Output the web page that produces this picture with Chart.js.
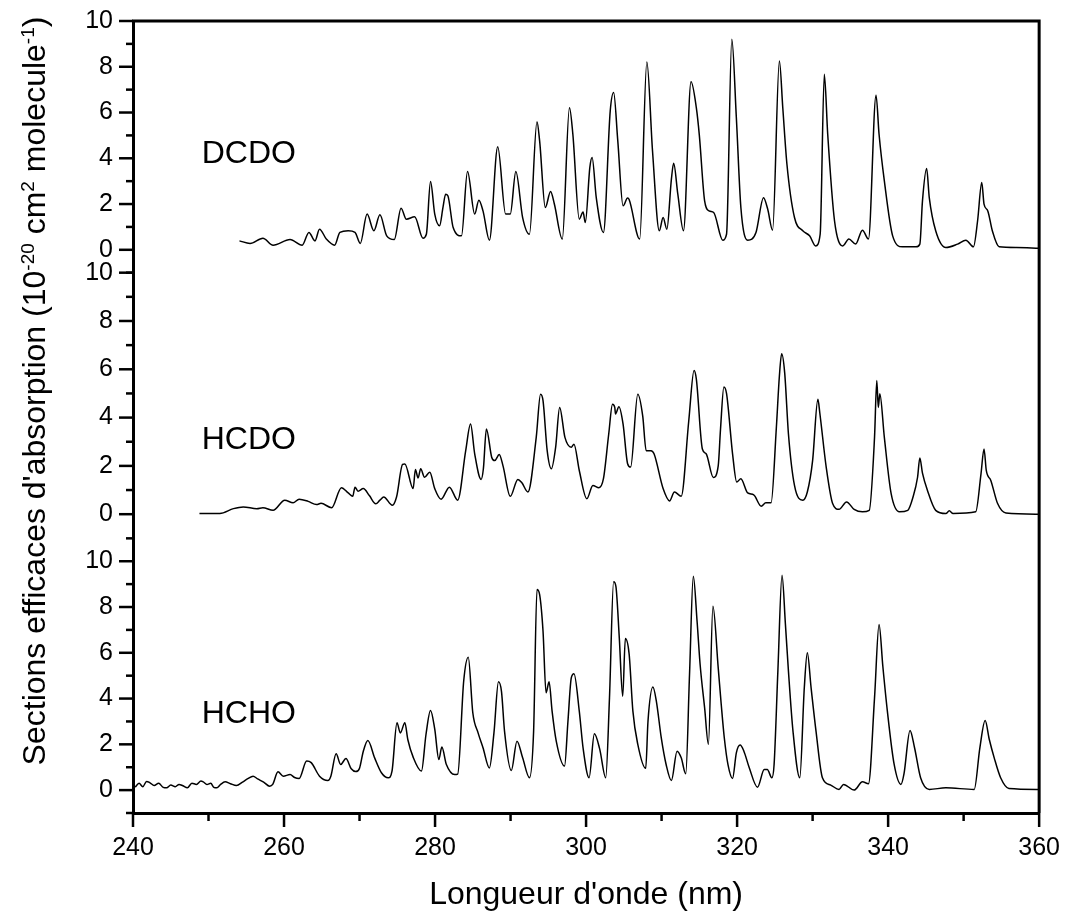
<!DOCTYPE html>
<html>
<head>
<meta charset="utf-8">
<script src="https://cdn.jsdelivr.net/npm/chart.js@4.4.1/dist/chart.umd.min.js"></script>
<style>
  html, body { margin: 0; padding: 0; background: #fff; }
  #wrap { position: relative; width: 1066px; height: 915px; }
</style>
</head>
<body>
<div id="wrap"><canvas id="spectraChart"></canvas></div>
<script>
// cross sections in 1e-20 cm2/molecule
const dcdoNm = [254.1, 255.5, 257.2, 258.55, 260.8, 262.4, 263.3, 264.1, 264.7, 265.6,
  266.7, 267.4, 268.5, 269.4, 270.1, 271.0, 271.9, 272.7, 273.6, 274.6,
  275.5, 276.2, 277.3, 278.4, 278.85, 279.4, 279.96, 280.6, 281.05, 281.4,
  281.7, 282.4, 283.5, 284.3, 285.25, 285.8, 286.35, 287.2, 288.3, 289.35,
  289.96, 290.7, 291.6, 292.5, 293.5, 293.85, 294.6, 295.3, 295.8, 296.85,
  297.8, 298.25, 299.1, 299.6, 299.9, 300.5, 300.8, 301.35, 302.3, 303.2,
  303.65, 304.2, 304.9, 305.5, 305.7, 307.1, 308.05, 308.8, 309.7, 310.2,
  310.7, 311.3, 311.6, 312.15, 312.9, 313.9, 314.6, 315.0, 315.7, 316.3,
  316.9, 318.1, 318.6, 319.3, 319.9, 320.5, 321.4, 322.5, 323.5, 324.05,
  324.7, 325.6, 326.05, 326.6, 327.6, 328.7, 329.6, 330.4, 331.0, 331.55,
  332.0, 332.9, 334.0, 334.8, 335.7, 336.6, 337.4, 338.4, 338.8, 339.5,
  340.6, 341.9, 343.7, 344.2, 344.55, 345.1, 345.45, 346.3, 347.65, 349.2,
  350.3, 351.3, 351.85, 352.4, 352.7, 353.2, 353.8, 354.7, 357.0, 360.0];
const dcdoSigma = [0.39, 0.28, 0.51, 0.2, 0.45, 0.2, 0.76, 0.39, 0.9, 0.47,
  0.2, 0.76, 0.83, 0.76, 0.28, 1.56, 0.83, 1.53, 0.61, 0.45,
  1.82, 1.34, 1.44, 0.51, 0.68, 2.98, 1.56, 1.05, 1.85, 2.43,
  2.36, 0.97, 0.61, 3.42, 1.56, 2.17, 1.7, 0.42, 4.5, 1.56,
  1.56, 3.42, 1.41, 0.68, 5.6, 4.76, 1.85, 2.55, 2.0, 0.47,
  6.21, 5.05, 1.34, 1.65, 1.19, 3.6, 4.03, 2.28, 0.76, 6.07,
  6.87, 4.76, 1.92, 2.26, 2.2, 0.47, 8.21, 4.32, 0.83, 1.41,
  0.9, 3.09, 3.78, 2.43, 0.83, 7.34, 6.21, 5.0, 2.14, 1.7,
  1.63, 0.42, 0.68, 9.2, 5.78, 1.85, 0.42, 0.76, 2.28, 1.78,
  0.86, 8.25, 6.21, 3.74, 1.41, 0.83, 0.61, 0.17, 0.68, 7.67,
  5.05, 1.27, 0.17, 0.47, 0.25, 0.86, 0.47, 6.76, 5.05, 3.01,
  0.61, 0.13, 0.13, 0.25, 2.14, 3.55, 2.28, 0.83, 0.1, 0.25,
  0.42, 0.13, 1.27, 2.94, 2.0, 1.7, 0.83, 0.13, 0.1, 0.07];

const hcdoNm = [248.8, 251.5, 253.3, 254.6, 256.4, 257.2, 258.55, 260.1, 261.2, 262.0,
  263.2, 264.3, 264.9, 266.3, 267.6, 268.5, 269.1, 269.4, 269.8, 270.5,
  271.3, 272.15, 272.7, 273.2, 274.35, 274.9, 275.7, 276.0, 277.1, 277.4,
  277.75, 278.1, 278.6, 279.3, 279.96, 280.8, 281.9, 283.0, 284.06, 284.7,
  285.25, 286.1, 286.4, 286.8, 287.5, 287.9, 288.5, 289.0, 289.96, 290.97,
  291.5, 292.3, 293.4, 293.97, 294.3, 294.85, 295.4, 295.97, 296.5, 297.2,
  298.04, 298.4, 299.1, 300.1, 300.9, 301.7, 302.3, 303.0, 303.5, 303.8,
  303.9, 304.35, 304.9, 305.5, 305.9, 306.85, 307.5, 307.96, 308.6, 309.0,
  310.2, 311.05, 311.7, 312.6, 313.6, 314.3, 314.6, 315.4, 315.9, 316.85,
  317.5, 317.8, 318.25, 318.6, 319.4, 319.95, 320.5, 321.4, 322.2, 323.2,
  323.8, 324.5, 325.2, 325.6, 325.9, 326.3, 326.8, 327.6, 328.7, 329.3,
  330.0, 330.7, 330.95, 331.8, 332.65, 333.5, 334.5, 335.5, 336.6, 337.5,
  338.2, 338.5, 338.7, 338.9, 339.5, 340.4, 341.5, 342.6, 343.3, 343.9,
  344.2, 344.55, 345.2, 346.3, 347.65, 348.1, 348.6, 351.6, 352.3, 352.7,
  353.0, 353.6, 354.5, 355.6, 360.0];
const hcdoSigma = [0.03, 0.03, 0.23, 0.3, 0.23, 0.27, 0.16, 0.58, 0.47, 0.62,
  0.53, 0.4, 0.45, 0.27, 1.1, 0.88, 0.74, 1.12, 0.95, 1.06,
  0.77, 0.43, 0.58, 0.71, 0.37, 0.71, 2.06, 2.08, 1.06, 1.85,
  1.5, 1.88, 1.53, 1.74, 1.06, 0.62, 1.12, 0.58, 2.63, 3.73,
  2.5, 1.44, 1.88, 3.53, 2.36, 2.22, 2.47, 2.0, 0.74, 1.44,
  1.3, 0.92, 3.18, 4.97, 4.7, 2.63, 1.88, 2.77, 4.42, 3.18,
  2.77, 2.9, 1.81, 0.64, 1.19, 1.1, 1.47, 3.32, 4.55, 4.42,
  4.15, 4.45, 3.73, 2.09, 1.95, 4.97, 4.07, 2.63, 2.63, 2.5,
  1.06, 0.55, 0.92, 0.74, 3.87, 5.95, 5.6, 2.7, 2.5, 1.52,
  2.0, 3.5, 5.27, 5.0, 2.5, 1.33, 1.47, 0.88, 0.8, 0.33,
  0.47, 0.47, 3.59, 5.72, 6.64, 5.86, 3.32, 1.19, 0.58, 0.92,
  2.22, 4.76, 4.2, 1.95, 0.44, 0.2, 0.51, 0.2, 0.1, 0.16,
  3.18, 5.54, 4.42, 4.99, 3.18, 0.85, 0.1, 0.16, 0.71, 1.53,
  2.33, 1.7, 0.99, 0.16, 0.03, 0.14, 0.03, 0.1, 1.67, 2.7,
  1.81, 1.4, 0.44, 0.05, 0.0];

const hchoNm = [240.3, 240.8, 241.3, 241.8, 242.25, 242.8, 243.4, 244.0, 244.45, 245.0,
  245.6, 246.1, 246.6, 247.2, 247.8, 248.4, 249.0, 249.3, 249.8, 250.3,
  250.7, 251.1, 251.6, 252.2, 252.9, 253.7, 254.5, 255.2, 255.9, 256.5,
  257.3, 258.1, 258.5, 259.2, 259.9, 260.8, 261.4, 262.0, 263.0, 263.6,
  264.7, 265.8, 266.2, 266.9, 267.5, 268.2, 268.9, 269.5, 270.0, 270.5,
  271.1, 272.0, 272.9, 273.8, 274.3, 274.96, 275.4, 276.0, 276.4, 277.1,
  278.2, 278.8, 279.4, 279.96, 280.5, 280.9, 281.5, 282.6, 283.0, 283.8,
  284.4, 285.0, 285.7, 286.35, 287.2, 287.8, 288.4, 288.8, 289.2, 290.1,
  290.85, 291.6, 292.5, 293.05, 293.5, 293.85, 294.3, 294.7, 295.1, 295.5,
  296.05, 297.15, 297.6, 298.04, 298.4, 299.1, 299.6, 300.4, 301.1, 301.8,
  302.6, 303.1, 303.65, 303.95, 304.4, 304.85, 305.2, 305.7, 306.2, 306.85,
  307.9, 308.2, 308.85, 309.3, 309.96, 310.6, 311.3, 312.05, 312.6, 313.2,
  313.7, 314.2, 314.7, 315.1, 315.7, 316.2, 316.8, 317.5, 317.9, 318.3,
  318.8, 319.4, 319.9, 320.4, 320.9, 321.6, 322.7, 323.6, 324.0, 324.6,
  324.9, 325.4, 325.95, 326.4, 326.8, 327.4, 328.3, 328.9, 329.3, 329.8,
  330.45, 331.3, 332.4, 333.5, 334.1, 335.5, 336.6, 337.4, 338.2, 338.8,
  339.3, 339.9, 340.8, 341.7, 342.1, 342.9, 343.5, 344.3, 345.45, 347.65,
  351.4, 352.15, 352.85, 353.4, 354.05, 354.9, 356.0, 360.0];
const hchoSigma = [0.13, 0.3, 0.15, 0.38, 0.32, 0.2, 0.3, 0.12, 0.1, 0.22,
  0.15, 0.25, 0.19, 0.1, 0.3, 0.25, 0.4, 0.36, 0.25, 0.3,
  0.12, 0.1, 0.25, 0.36, 0.28, 0.2, 0.35, 0.5, 0.61, 0.49,
  0.35, 0.17, 0.25, 0.8, 0.61, 0.68, 0.55, 0.51, 1.27, 1.2,
  0.61, 0.42, 0.61, 1.59, 1.12, 1.38, 0.93, 0.81, 0.96, 1.7,
  2.17, 1.41, 0.76, 0.54, 0.83, 2.94, 2.5, 2.94, 2.2, 1.44,
  0.83, 2.43, 3.48, 2.66, 1.34, 1.88, 1.12, 0.68, 0.7, 4.79,
  5.81, 3.38, 2.5, 1.85, 0.97, 2.5, 4.73, 4.3, 2.58, 0.86,
  2.14, 1.41, 0.54, 2.55, 8.76, 8.54, 6.94, 4.25, 4.73, 3.45,
  2.14, 1.05, 3.01, 4.9, 5.08, 3.45, 1.85, 0.54, 2.46, 1.8,
  0.54, 4.03, 9.1, 8.9, 6.65, 4.1, 6.62, 5.95, 3.45, 2.0,
  0.95, 3.01, 4.5, 3.9, 2.28, 1.12, 0.42, 1.7, 1.41, 0.71,
  5.05, 9.34, 7.38, 5.5, 3.59, 2.0, 8.03, 5.34, 3.74, 2.3,
  1.1, 0.51, 1.63, 1.97, 1.7, 0.99, 0.13, 0.9, 0.9, 0.54,
  1.12, 5.2, 9.39, 7.24, 5.2, 2.58, 0.54, 4.47, 6.0, 4.47,
  2.58, 0.54, 0.22, 0.03, 0.25, 0.0, 0.36, 0.28, 4.03, 7.24,
  5.41, 3.45, 1.12, 0.25, 0.71, 2.61, 1.85, 0.54, 0.03, 0.1,
  0.03, 1.85, 3.04, 2.21, 1.41, 0.54, 0.07, 0.03];

const panelNames = ['DCDO', 'HCDO', 'HCHO'];
const panelLabelNm = 249.1;
const panelLabelLevel = [4.2, 3.05, 3.3];
const yTickLabels = [0, 2, 4, 6, 8, 10];
const xTickLabels = [240, 260, 280, 300, 320, 340, 360];

const FONT = "'Liberation Sans', Arial, sans-serif";
Chart.defaults.font.family = FONT;
Chart.defaults.color = '#000';

const toPoints = (nm, sigma) => nm.map((x, i) => ({ x: x, y: sigma[i] }));

const spectrum = (data, axis) => ({
  data: data,
  yAxisID: axis,
  borderColor: '#000',
  borderWidth: 1.5,
  pointRadius: 0,
  cubicInterpolationMode: 'monotone',
  fill: false
});

const panelAxis = (weight, max) => ({
  type: 'linear',
  position: 'left',
  stack: 'panels',
  stackWeight: weight,
  min: -1,
  max: max,
  ticks: {
    stepSize: 1,
    autoSkip: false,
    padding: 6,
    font: { size: 25 },
    color: '#000',
    callback: v => yTickLabels.includes(v) ? String(v) : ''
  },
  grid: { display: false, drawTicks: true, tickLength: 14 },
  border: { display: true, width: 3, color: '#000' },
  afterFit: scale => { scale.width = 60; }
});

// ticks (major/minor), frame, panel names and the y title
const decorations = {
  id: 'decorations',
  afterDraw(chart) {
    const { ctx, chartArea: a, scales } = chart;
    ctx.save();
    ctx.strokeStyle = '#000';
    ctx.fillStyle = '#000';
    ctx.lineWidth = 3;
    ctx.beginPath();
    ctx.moveTo(a.left - 1, a.top);
    ctx.lineTo(a.right, a.top);
    ctx.lineTo(a.right, a.bottom);
    ctx.stroke();

    ctx.lineWidth = 2.5;
    ['yTop', 'yMid', 'yBot'].forEach(id => {
      const s = scales[id];
      for (let v = s.min; v <= Math.min(s.max, 10); v++) {
        const y = s.getPixelForValue(v);
        const len = yTickLabels.includes(v) ? 14 : 7;
        ctx.beginPath();
        ctx.moveTo(a.left, y);
        ctx.lineTo(a.left - len, y);
        ctx.stroke();
      }
    });
    const sx = scales.x;
    for (let v = sx.min; v <= sx.max; v += 10) {
      const x = sx.getPixelForValue(v);
      const len = xTickLabels.includes(v) ? 14 : 8;
      ctx.beginPath();
      ctx.moveTo(x, a.bottom);
      ctx.lineTo(x, a.bottom + len);
      ctx.stroke();
    }

    ctx.font = '32px ' + FONT;
    ctx.textAlign = 'left';
    ctx.textBaseline = 'middle';
    ['yTop', 'yMid', 'yBot'].forEach((id, i) => {
      ctx.fillText(panelNames[i], sx.getPixelForValue(panelLabelNm), scales[id].getPixelForValue(panelLabelLevel[i]));
    });

    // rotated y title with superscripts
    const parts = [
      ["Sections efficaces d'absorption (10", false],
      ['-20', true], [' cm', false], ['2', true],
      [' molecule', false], ['-1', true], [')', false]
    ];
    const big = '32px ' + FONT, small = '19px ' + FONT;
    let total = 0;
    parts.forEach(([t, sup]) => { ctx.font = sup ? small : big; total += ctx.measureText(t).width; });
    ctx.translate(45, 391);
    ctx.rotate(-Math.PI / 2);
    ctx.textBaseline = 'alphabetic';
    let x = -total / 2;
    parts.forEach(([t, sup]) => {
      ctx.font = sup ? small : big;
      ctx.fillText(t, x, sup ? -11 : 0);
      x += ctx.measureText(t).width;
    });
    ctx.restore();
  }
};

new Chart(document.getElementById('spectraChart'), {
  type: 'line',
  data: {
    datasets: [
      spectrum(toPoints(dcdoNm, dcdoSigma), 'yTop'),
      spectrum(toPoints(hcdoNm, hcdoSigma), 'yMid'),
      spectrum(toPoints(hchoNm, hchoSigma), 'yBot')
    ]
  },
  options: {
    responsive: true,
    maintainAspectRatio: false,
    animation: false,
    layout: { padding: { left: 73, right: 26, top: 20, bottom: 0 } },
    plugins: { legend: { display: false }, tooltip: { enabled: false } },
    scales: {
      x: {
        type: 'linear',
        min: 240,
        max: 360,
        ticks: {
          stepSize: 10,
          autoSkip: false,
          maxRotation: 0,
          padding: 6,
          font: { size: 25 },
          color: '#000',
          callback: v => xTickLabels.includes(v) ? String(v) : ''
        },
        grid: { display: false, drawTicks: true, tickLength: 14 },
        border: { display: true, width: 3, color: '#000' },
        title: {
          display: true,
          text: "Longueur d'onde (nm)",
          color: '#000',
          font: { size: 32 },
          padding: { top: 0, bottom: 1 }
        },
        afterFit: scale => { scale.height = 102; }
      },
      yBot: panelAxis(275, 11),
      yMid: panelAxis(266, 10),
      yTop: panelAxis(252, 10)
    }
  },
  plugins: [decorations]
});
</script>
</body>
</html>
